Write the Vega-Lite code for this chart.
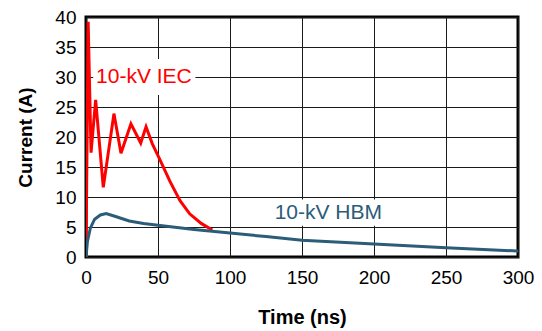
{
  "$schema": "https://vega.github.io/schema/vega-lite/v6.json",
  "autosize": {"type": "none"},
  "width": 432,
  "height": 240,
  "padding": {"left": 86, "top": 17, "right": 24, "bottom": 74},
  "background": "white",
  "config": {
    "view": {"stroke": "#000", "strokeWidth": 3},
    "font": "Liberation Sans",
    "axis": {
      "domain": false,
      "ticks": false,
      "grid": true,
      "gridColor": "#1a1a1a",
      "gridWidth": 1,
      "gridOpacity": 1,
      "labelOverlap": false,
      "labelFlush": false,
      "labelFont": "Liberation Sans",
      "labelFontSize": 19,
      "labelColor": "#000",
      "titleFont": "Liberation Sans",
      "titleFontSize": 19,
      "titleFontWeight": "bold",
      "titleColor": "#000"
    }
  },
  "datasets": {
    "curves": [
      {"series": "IEC", "t": 0, "i": 0},
      {"series": "IEC", "t": 1.5, "i": 39.2},
      {"series": "IEC", "t": 3.5, "i": 17.4},
      {"series": "IEC", "t": 6.7, "i": 26.2},
      {"series": "IEC", "t": 12, "i": 11.6},
      {"series": "IEC", "t": 19.4, "i": 23.9},
      {"series": "IEC", "t": 24.3, "i": 17.3},
      {"series": "IEC", "t": 31.2, "i": 22.2},
      {"series": "IEC", "t": 38, "i": 19.0},
      {"series": "IEC", "t": 41.7, "i": 21.7},
      {"series": "IEC", "t": 46, "i": 18.9},
      {"series": "IEC", "t": 51.4, "i": 16.2},
      {"series": "IEC", "t": 58.3, "i": 12.6},
      {"series": "IEC", "t": 65.3, "i": 9.4},
      {"series": "IEC", "t": 72, "i": 7.2},
      {"series": "IEC", "t": 80, "i": 5.6},
      {"series": "IEC", "t": 87.7, "i": 4.5},
      {"series": "HBM", "t": 0, "i": 0},
      {"series": "HBM", "t": 1, "i": 2.6},
      {"series": "HBM", "t": 3, "i": 4.8},
      {"series": "HBM", "t": 6, "i": 6.3},
      {"series": "HBM", "t": 10, "i": 7.0},
      {"series": "HBM", "t": 14, "i": 7.25},
      {"series": "HBM", "t": 20, "i": 6.8},
      {"series": "HBM", "t": 30, "i": 6.0},
      {"series": "HBM", "t": 40, "i": 5.6},
      {"series": "HBM", "t": 50, "i": 5.3},
      {"series": "HBM", "t": 75, "i": 4.6},
      {"series": "HBM", "t": 100, "i": 4.0},
      {"series": "HBM", "t": 125, "i": 3.4},
      {"series": "HBM", "t": 150, "i": 2.8},
      {"series": "HBM", "t": 200, "i": 2.15},
      {"series": "HBM", "t": 250, "i": 1.55},
      {"series": "HBM", "t": 300, "i": 1.0}
    ],
    "labels": [
      {"series": "IEC", "text": "10-kV IEC", "t": 7, "i": 30, "t1": 5, "t2": 76, "i1": 27, "i2": 33},
      {"series": "HBM", "text": "10-kV HBM", "t": 131, "i": 7.3, "t1": 127, "t2": 211, "i1": 5.2, "i2": 9.6}
    ]
  },
  "encoding": {
    "x": {"type": "quantitative", "title": "Time (ns)",
          "scale": {"domain": [0, 300], "nice": false, "zero": false},
          "axis": {"values": [0, 50, 100, 150, 200, 250, 300], "labelPadding": 11, "titlePadding": 20, "titleFontSize": 20}},
    "y": {"type": "quantitative", "title": "Current (A)",
          "scale": {"domain": [0, 40], "nice": false, "zero": false},
          "axis": {"values": [0, 5, 10, 15, 20, 25, 30, 35, 40], "labelPadding": 10, "titlePadding": 19}}
  },
  "layer": [
    {
      "data": {"name": "labels"},
      "mark": {"type": "rect", "color": "white"},
      "encoding": {
        "x": {"field": "t1"},
        "x2": {"field": "t2"},
        "y": {"field": "i1"},
        "y2": {"field": "i2"}
      }
    },
    {
      "data": {"name": "curves"},
      "mark": {"type": "line", "strokeWidth": 3, "clip": true},
      "encoding": {
        "x": {"field": "t"},
        "y": {"field": "i"},
        "color": {"field": "series", "type": "nominal", "legend": null,
                  "scale": {"domain": ["IEC", "HBM"], "range": ["#ff0000", "#2b5c78"]}},
        "detail": {"field": "series"}
      }
    },
    {
      "data": {"name": "labels"},
      "mark": {"type": "text", "align": "left", "baseline": "middle", "fontSize": 21, "font": "Liberation Sans"},
      "encoding": {
        "x": {"field": "t"},
        "y": {"field": "i"},
        "text": {"field": "text"},
        "color": {"field": "series", "type": "nominal", "legend": null,
                  "scale": {"domain": ["IEC", "HBM"], "range": ["#ff0000", "#2b5c78"]}}
      }
    }
  ]
}
